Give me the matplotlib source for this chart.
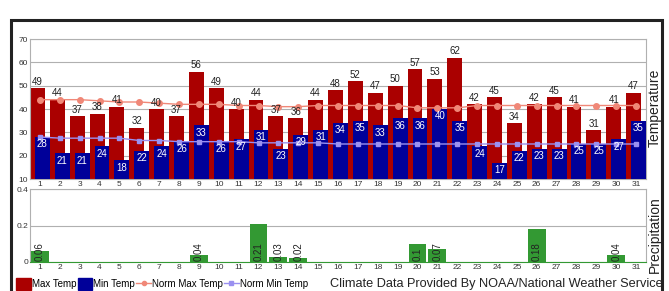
import numpy as np
import matplotlib
matplotlib.use("Agg")
import matplotlib.pyplot as plt
from matplotlib.patches import Patch, Rectangle
from matplotlib.lines import Line2D

plt.rcParams['font.family'] = ['Liberation Sans', 'DejaVu Sans']

days = list(range(1, 32))
max_temp = [49, 44, 37, 38, 41, 32, 40, 37, 56, 49, 40, 44, 37, 36, 44, 48,
            52, 47, 50, 57, 53, 62, 42, 45, 34, 42, 45, 41, 31, 41, 47]
min_temp = [28, 21, 21, 24, 18, 22, 24, 26, 33, 26, 27, 31, 23, 29, 31, 34,
            35, 33, 36, 36, 40, 35, 24, 17, 22, 23, 23, 25, 25, 27, 35]
norm_max = [44, 44, 44, 43.5, 43, 43, 42.5, 42, 42, 42, 41.5, 41.5, 41, 41, 41.5, 41.5,
            41.5, 41.5, 41.5, 40.5, 40.5, 40.5, 41.5, 41.5, 41.5, 41.5, 41.5, 41.5, 41.5, 41.5, 41.5]
norm_min = [28, 27.5, 27.5, 27.5, 27.5, 26.5, 26.5, 26, 26, 26, 26, 25.5, 25.5, 25.5, 25.5, 25,
            25, 25, 25, 25, 25, 25, 25, 25, 25, 25, 25, 25, 25, 25, 25]
precip = {1: 0.06, 9: 0.04, 12: 0.21, 13: 0.03, 14: 0.02, 20: 0.1, 21: 0.07, 26: 0.18, 30: 0.04}

RED = '#aa0000'
BLUE = '#000099'
PINK = '#f08878'
LAV = '#9a90f0'
GREEN = '#339933'
GRID = '#b0b0b0'

W, H = 669, 291
fig = plt.figure(figsize=(W / 100, H / 100), dpi=100)

def box(l, t, r, b):
    return [l / W, 1 - b / H, (r - l) / W, (b - t) / H]

ax = fig.add_axes(box(30, 39, 646, 179))
x = np.array(days)
ax.bar(x - 0.125, max_temp, width=0.75, color=RED, zorder=2)
ax.bar(x + 0.125, min_temp, width=0.75, color=BLUE, zorder=3)
ax.plot(x, norm_max, color=PINK, lw=1, marker='o', ms=4, zorder=4)
ax.plot(x, norm_min, color=LAV, lw=1, marker='s', ms=3.5, zorder=4)
for d, v in zip(days, max_temp):
    ax.text(d - 0.125, v + 0.6, str(v), ha='center', va='bottom', fontsize=7, color='#222222', zorder=5)
for d, v in zip(days, min_temp):
    ax.text(d + 0.125, v - 1, str(v), ha='center', va='top', fontsize=7, color='white', zorder=5)
ax.set_xlim(0.5, 31.5)
ax.set_ylim(10, 70)
ax.set_yticks(range(10, 71, 10))
ax.set_xticks(days)
ax.grid(axis='y', color=GRID, lw=0.8, zorder=0)
ax.tick_params(length=0, labelsize=6, pad=1.5, colors='#333333')
for s in ax.spines.values():
    s.set_color(GRID)
    s.set_linewidth(0.8)

ax2 = fig.add_axes(box(30, 189, 646, 262))
pdays = list(precip.keys())
pvals = list(precip.values())
ax2.bar(pdays, pvals, width=0.9, color=GREEN, zorder=2)
for d, v in zip(pdays, pvals):
    ax2.text(d, 0.004, str(v), rotation=90, ha='center', va='bottom', fontsize=7, color='#222222', zorder=5)
ax2.set_xlim(0.5, 31.5)
ax2.set_ylim(0, 0.4)
ax2.set_yticks([0, 0.2, 0.4])
ax2.set_yticklabels(['0', '0.2', '0.4'])
ax2.set_xticks(days)
ax2.grid(axis='y', color=GRID, lw=0.8, zorder=0)
ax2.tick_params(length=0, labelsize=6, pad=1.5, colors='#333333')
for s in ax2.spines.values():
    s.set_color(GRID)
    s.set_linewidth(0.8)
ax2.spines['bottom'].set_color(GREEN)

fig.text(655 / W, 1 - 108 / H, 'Temperature', rotation=90, ha='center', va='center', fontsize=10, color='#222222')
fig.text(655 / W, 1 - 235 / H, 'Precipitation', rotation=90, ha='center', va='center', fontsize=10, color='#222222')

handles = [Patch(color=RED), Patch(color=BLUE),
           Line2D([], [], color=PINK, lw=1, marker='o', ms=3),
           Line2D([], [], color=LAV, lw=1, marker='s', ms=3)]
fig.legend(handles, ['Max Temp', 'Min Temp', 'Norm Max Temp', 'Norm Min Temp'],
           loc='center left', bbox_to_anchor=(16 / W, 1 - 284 / H), ncol=4, frameon=False,
           fontsize=7, handlelength=1.5, handleheight=1.5, handletextpad=0.1,
           columnspacing=0.15, borderpad=0, borderaxespad=0)
fig.text(663 / W, 1 - 284 / H, 'Climate Data Provided By NOAA/National Weather Service',
         ha='right', va='center', fontsize=9.2, color='#222222')

fig.patches.append(Rectangle((11 / W, -0.05), (662 - 11) / W, (1 - 20 / H) + 0.05,
                             transform=fig.transFigure, fill=False, ec='#222222', lw=2.2))

fig.savefig('out.png', dpi=100)
